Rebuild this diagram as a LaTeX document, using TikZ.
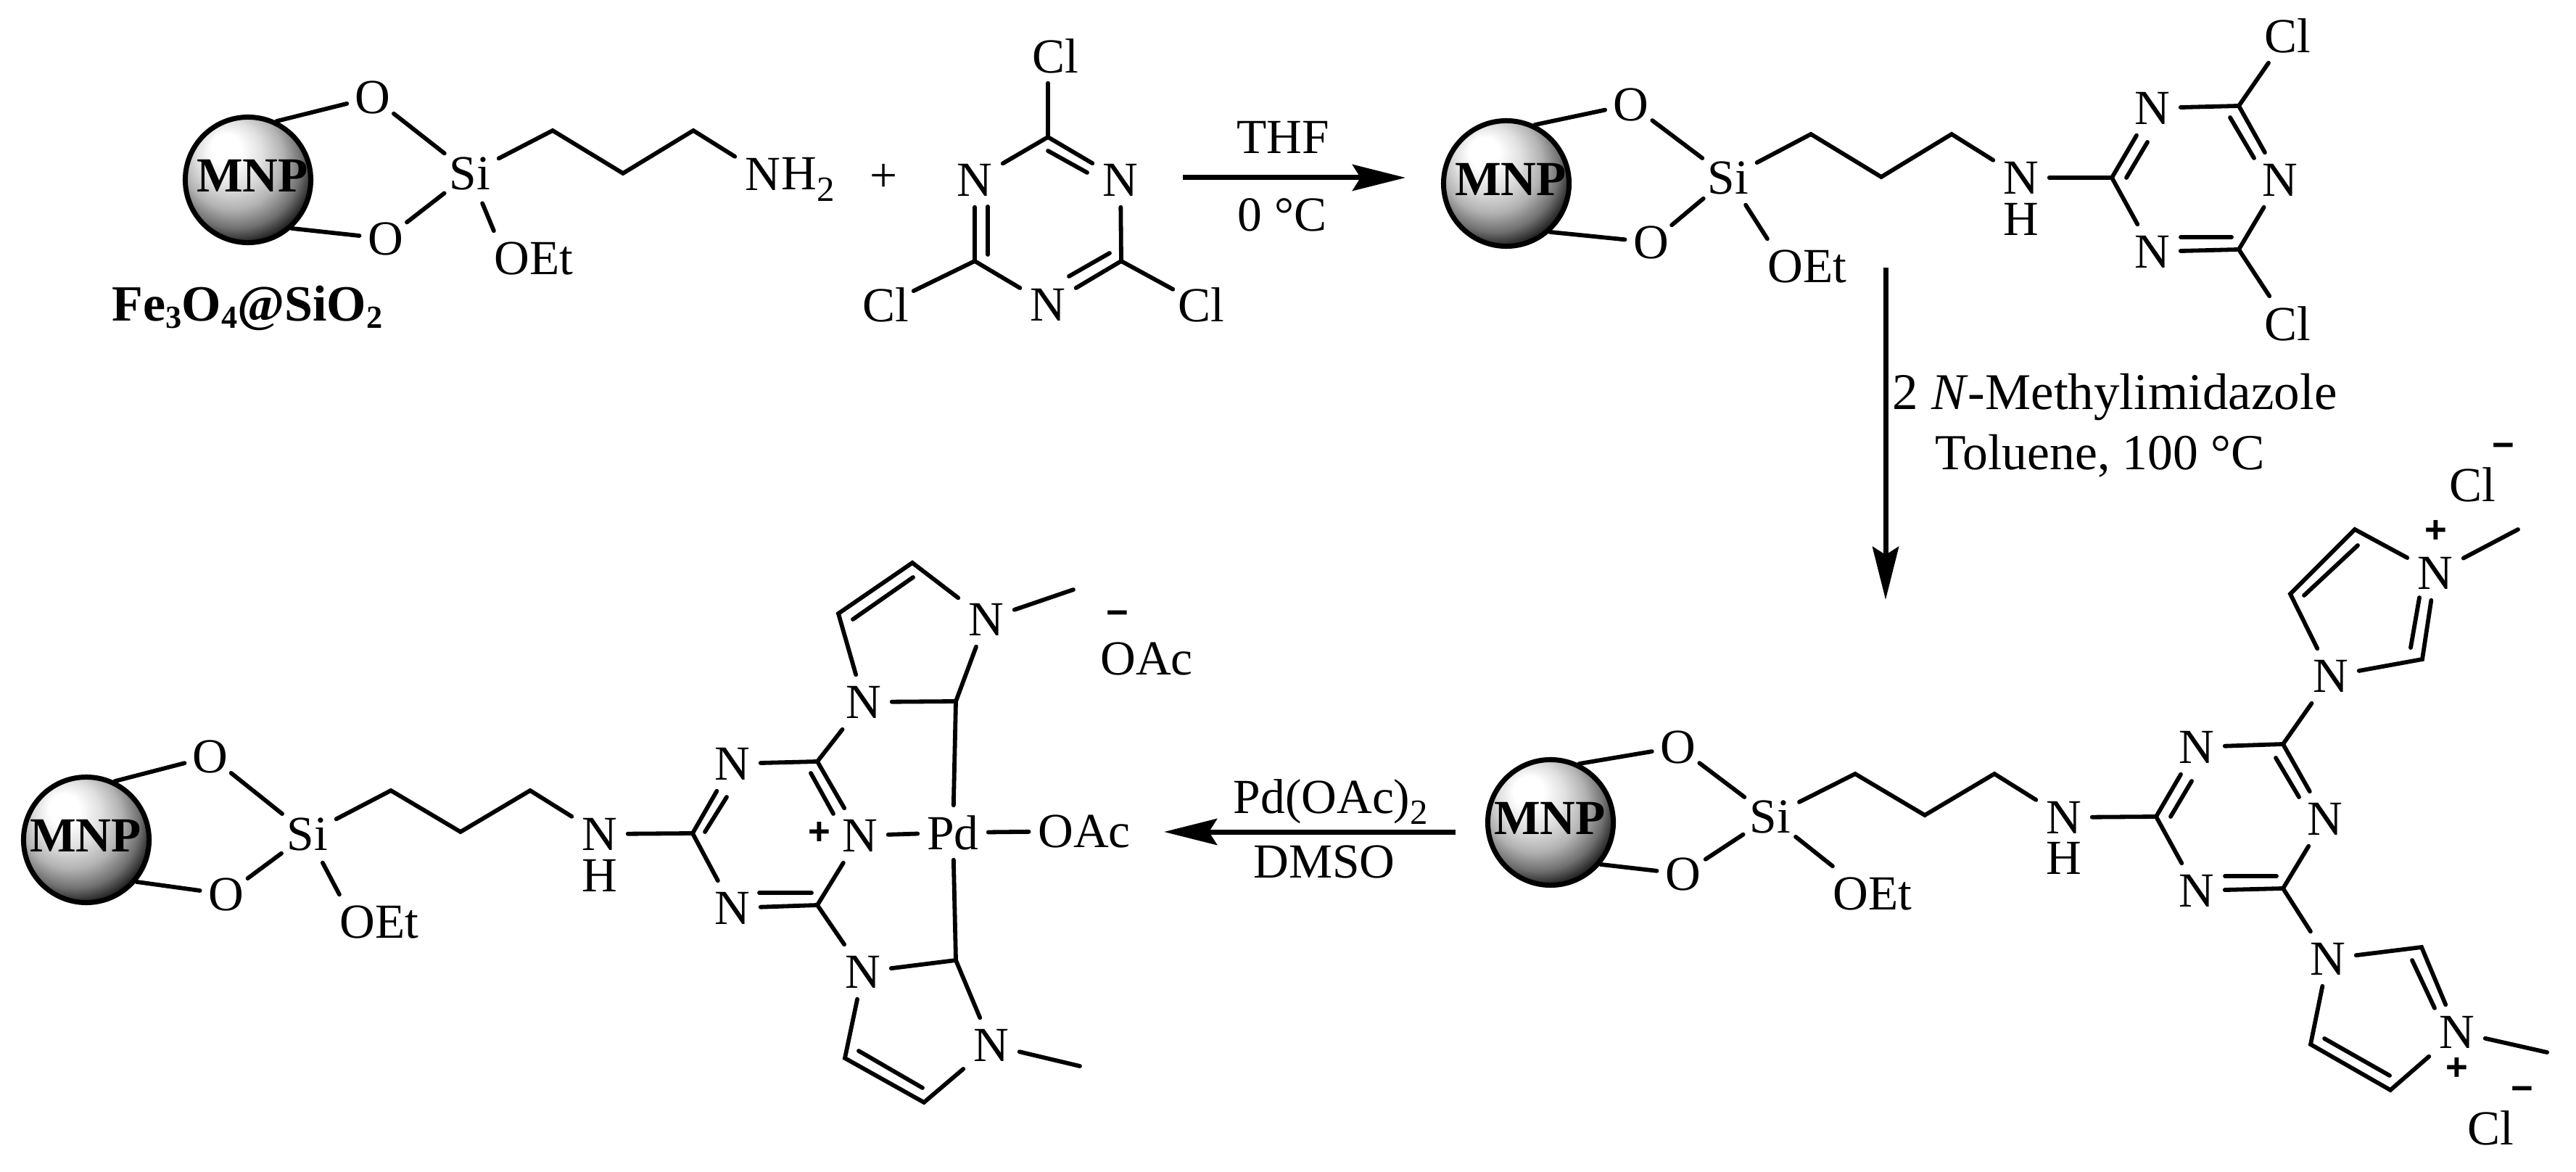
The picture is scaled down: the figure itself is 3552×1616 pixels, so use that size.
\documentclass[tikz,border=0pt]{standalone}
\usepackage{fontspec}
\setmainfont{Liberation Serif}
\newfontfamily\signfont{Liberation Sans}
\usetikzlibrary{arrows.meta}
\newcommand{\atomfont}{\fontsize{19.2}{23}\selectfont}
\newcommand{\low}[1]{\raisebox{-4.3pt}{\fontsize{13.9}{14}\selectfont #1}}
\newcommand{\lowb}[1]{\raisebox{-2.6pt}{\fontsize{12.6}{13}\selectfont #1}}
\pgfdeclareradialshading{mnpshade}{\pgfpoint{-10bp}{14bp}}{
  color(0bp)=(white);
  color(6bp)=(white);
  color(13bp)=(black!12);
  color(20bp)=(black!30);
  color(26bp)=(black!56);
  color(31bp)=(black!90);
  color(50bp)=(black)
}
\tikzstyle{atom}=[font=\atomfont, inner sep=0pt, minimum width=.76cm, minimum height=.74cm]
\tikzstyle{atom_ox}=[circle, font=\atomfont, inner sep=0pt, minimum size=.72cm]
\tikzstyle{atom_si}=[circle, font=\atomfont, inner sep=0pt, minimum size=.88cm]
\tikzstyle{rxn_text}=[font=\atomfont, inner sep=0pt]
\tikzstyle{bond}=[line width=.058cm, line cap=round, line join=miter]
\tikzstyle{rxn_arrow}=[line width=.07cm, -{Stealth[length=.73cm,width=.36cm,inset=.11cm]}]
\tikzstyle{mnp_ball}=[circle, draw=black, line width=.07cm, inner sep=0pt, minimum size=1.73cm, shading=mnpshade]
\tikzstyle{mnp_text}=[font=\fontsize{19.2}{23}\selectfont\bfseries, inner sep=0pt]
\tikzstyle{plus_sign}=[font=\fontsize{15}{18}\selectfont\signfont\bfseries, inner sep=0pt]
\tikzstyle{minus_sign}=[font=\fontsize{15}{18}\selectfont\signfont\bfseries, inner sep=0pt]
\begin{document}
\begin{tikzpicture}[x=.01cm, y=-.01cm]
\useasboundingbox (0,0) rectangle (3552,1616);
\node[mnp_ball] (aMNP) at (342,248){};
\node[mnp_text] (aMNPt) at (348,242){MNP};
\node[atom_ox] (aO1) at (514,134){O};
\node[atom_ox] (aO2) at (532,329){O};
\node[atom_si] (aSi) at (648,239){Si};
\node[atom] (aOEt) at (736,356){OEt};
\node[atom] (aN) at (1052,240){N};
\node[rxn_text, anchor=base west] (aH) at (1077,262){H\low{2}};
\coordinate (aC1) at (762,180);
\coordinate (aC2) at (859,239);
\coordinate (aC3) at (956,180);
\draw[bond](aMNP.64) -- (aO1);
\draw[bond](aMNP.-48) -- (aO2);
\draw[bond](aO1) -- (aSi);
\draw[bond](aO2) -- (aSi);
\draw[bond](aSi) -- (aOEt.north west);
\draw[bond](aSi) -- (aC1) -- (aC2) -- (aC3) -- (aN);
\node[rxn_text, anchor=base west] (aLabel) at (154,443){\fontsize{19.9}{24}\selectfont\bfseries Fe\lowb{3}O\lowb{4}@SiO\lowb{2}};
\node[rxn_text] (plusA) at (1219,245){+};
\node[atom] (tCl1) at (1455,77){Cl};
\node[atom] (tCl2) at (1221,420){Cl};
\node[atom] (tCl3) at (1656,420){Cl};
\node[atom] (tN1) at (1344,248){N};
\node[atom] (tN2) at (1545,248){N};
\node[atom] (tN3) at (1445,420){N};
\coordinate (tC1) at (1445,189);
\coordinate (tC2) at (1344,360);
\coordinate (tC3) at (1546,360);
\coordinate (tI1a) at (1445,208);
\coordinate (tI1b) at (1499,238);
\coordinate (tI2a) at (1362,285);
\coordinate (tI2b) at (1362,351);
\coordinate (tI3a) at (1474,381);
\coordinate (tI3b) at (1530,349);
\draw[bond](tC1) -- (tCl1.south -| tC1);
\draw[bond](tC2) -- (tCl2);
\draw[bond](tC3) -- (tCl3);
\draw[bond](tC1) -- (tN1);
\draw[bond](tC1) -- (tN2);
\draw[bond](tN1) -- (tC2);
\draw[bond](tN2) -- (tC3);
\draw[bond](tC2) -- (tN3);
\draw[bond](tC3) -- (tN3);
\draw[bond](tI1a) -- (tI1b);
\draw[bond](tI2a) -- (tI2b);
\draw[bond](tI3a) -- (tI3b);
\coordinate (arrow1a) at (1631,245);
\coordinate (arrow1b) at (1938,245);
\draw[rxn_arrow](arrow1a) -- (arrow1b);
\node[rxn_text] (thf) at (1769,189){THF};
\node[rxn_text] (temp1) at (1768,296){0 °C};
\node[mnp_ball] (bMNP) at (2077,253){};
\node[mnp_text] (bMNPt) at (2083,247){MNP};
\node[atom_ox] (bO1) at (2249,144){O};
\node[atom_ox] (bO2) at (2277,334){O};
\node[atom_si] (bSi) at (2383,245){Si};
\node[atom] (bOEt) at (2492,367){OEt};
\node[atom] (bN) at (2787,245){N};
\node[rxn_text] (bH) at (2787,302){H};
\coordinate (bC1) at (2497,185);
\coordinate (bC2) at (2594,244);
\coordinate (bC3) at (2691,185);
\draw[bond](bMNP.64) -- (bO1);
\draw[bond](bMNP.-48) -- (bO2);
\draw[bond](bO1) -- (bSi);
\draw[bond](bO2) -- (bSi);
\draw[bond](bSi) -- (bOEt.north west);
\draw[bond](bSi) -- (bC1) -- (bC2) -- (bC3) -- (bN);
\node[atom] (bN1) at (2968,149){N};
\node[atom] (bN2) at (2968,347){N};
\node[atom] (bN3) at (3144,248){N};
\node[atom] (bCl1) at (3154,49){Cl};
\node[atom] (bCl2) at (3154,446){Cl};
\coordinate (bT1) at (2912,245);
\coordinate (bT2) at (3087,146);
\coordinate (bT3) at (3087,344);
\coordinate (bI1a) at (2932,245);
\coordinate (bI1b) at (2961,196);
\coordinate (bI2a) at (3075,162);
\coordinate (bI2b) at (3108,218);
\coordinate (bI3a) at (3007,327);
\coordinate (bI3b) at (3077,327);
\draw[bond](bN) -- (bT1);
\draw[bond](bT1) -- (bN1);
\draw[bond](bT1) -- (bN2);
\draw[bond](bN1) -- (bT2);
\draw[bond](bT2) -- (bN3);
\draw[bond](bN3) -- (bT3);
\draw[bond](bT3) -- (bN2);
\draw[bond](bT2) -- (bCl1);
\draw[bond](bT3) -- (bCl2);
\draw[bond](bI1a) -- (bI1b);
\draw[bond](bI2a) -- (bI2b);
\draw[bond](bI3a) -- (bI3b);
\coordinate (arrow2a) at (2600,369);
\coordinate (arrow2b) at (2600,827);
\draw[rxn_arrow](arrow2a) -- (arrow2b);
\node[rxn_text, anchor=base west] (cond1) at (2609,565){\fontsize{20.2}{24}\selectfont 2 \textit{N}-Methylimidazole};
\node[rxn_text, anchor=base west] (cond2) at (2668,647){\fontsize{19.8}{24}\selectfont Toluene, 100 °C};
\node[mnp_ball] (dMNP) at (2138,1134){};
\node[mnp_text] (dMNPt) at (2137,1128){MNP};
\node[atom_ox] (dO1) at (2314,1030){O};
\node[atom_ox] (dO2) at (2321,1205){O};
\node[atom_si] (dSi) at (2441,1126){Si};
\node[atom] (dOEt) at (2582,1232){OEt};
\node[atom] (dN) at (2846,1127){N};
\node[rxn_text] (dH) at (2846,1183){H};
\coordinate (dC1) at (2558,1067);
\coordinate (dC2) at (2654,1124);
\coordinate (dC3) at (2750,1067);
\draw[bond](dMNP.64) -- (dO1);
\draw[bond](dMNP.-40) -- (dO2);
\draw[bond](dO1) -- (dSi);
\draw[bond](dO2) -- (dSi);
\draw[bond](dSi) -- (dOEt.north west);
\draw[bond](dSi) -- (dC1) -- (dC2) -- (dC3) -- (dN);
\node[atom] (dN1) at (3029,1030){N};
\node[atom] (dN2) at (3029,1228){N};
\node[atom] (dN3) at (3206,1129){N};
\node[atom] (dN4) at (3214,932){N};
\node[atom] (dN5) at (3210,1322){N};
\node[atom] (dN6) at (3358,790){N};
\node[atom] (dN7) at (3388,1423){N};
\coordinate (dT1) at (2973,1126);
\coordinate (dT2) at (3148,1026);
\coordinate (dT3) at (3148,1225);
\coordinate (dI1a) at (2993,1126);
\coordinate (dI1b) at (3022,1077);
\coordinate (dI2a) at (3138,1045);
\coordinate (dI2b) at (3170,1099);
\coordinate (dI3a) at (3068,1208);
\coordinate (dI3b) at (3139,1208);
\draw[bond](dN) -- (dT1);
\draw[bond](dT1) -- (dN1);
\draw[bond](dT1) -- (dN2);
\draw[bond](dN1) -- (dT2);
\draw[bond](dT2) -- (dN3);
\draw[bond](dN3) -- (dT3);
\draw[bond](dT3) -- (dN2);
\draw[bond](dT2) -- (dN4);
\draw[bond](dT3) -- (dN5);
\draw[bond](dI1a) -- (dI1b);
\draw[bond](dI2a) -- (dI2b);
\draw[bond](dI3a) -- (dI3b);
\coordinate (dV1) at (3158,819);
\coordinate (dV2) at (3247,730);
\coordinate (dV3) at (3340,909);
\coordinate (dMe1) at (3472,730);
\coordinate (dI4a) at (3177,821);
\coordinate (dI4b) at (3251,752);
\coordinate (dI5a) at (3336,824);
\coordinate (dI5b) at (3324,893);
\draw[bond](dN4) -- (dV1) -- (dV2) -- (dN6);
\draw[bond](dN6) -- (dV3) -- (dN4);
\draw[bond](dN6) -- (dMe1);
\draw[bond](dI4a) -- (dI4b);
\draw[bond](dI5a) -- (dI5b);
\node[plus_sign] (dPlus1) at (3359,733){+};
\node[atom] (dCl1) at (3409,668){Cl};
\node[minus_sign] (dMinus1) at (3452,621){−};
\coordinate (dV4) at (3339,1306);
\coordinate (dV5) at (3296,1503);
\coordinate (dV6) at (3186,1440);
\coordinate (dMe2) at (3512,1451);
\coordinate (dI6a) at (3326,1324);
\coordinate (dI6b) at (3357,1390);
\coordinate (dI7a) at (3205,1432);
\coordinate (dI7b) at (3295,1483);
\draw[bond](dN5) -- (dV4) -- (dN7);
\draw[bond](dN7) -- (dV5) -- (dV6) -- (dN5);
\draw[bond](dN7) -- (dMe2);
\draw[bond](dI6a) -- (dI6b);
\draw[bond](dI7a) -- (dI7b);
\node[plus_sign] (dPlus2) at (3388,1474){+};
\node[atom] (dCl2) at (3434,1555){Cl};
\node[minus_sign] (dMinus2) at (3478,1508){−};
\coordinate (arrow3a) at (2007,1147);
\coordinate (arrow3b) at (1605,1147);
\draw[rxn_arrow](arrow3a) -- (arrow3b);
\node[rxn_text, anchor=base west] (pdoac) at (1700,1121){Pd(OAc)\low{2}};
\node[rxn_text] (dmso) at (1826,1188){DMSO};
\node[mnp_ball] (cMNP) at (119,1158){};
\node[mnp_text] (cMNPt) at (118,1152){MNP};
\node[atom_ox] (cO1) at (290,1043){O};
\node[atom_ox] (cO2) at (312,1233){O};
\node[atom_si] (cSi) at (424,1150){Si};
\node[atom] (cOEt) at (523,1271){OEt};
\node[atom] (cN) at (827,1150){N};
\node[rxn_text] (cH) at (827,1207){H};
\coordinate (cC1) at (539,1090);
\coordinate (cC2) at (635,1147);
\coordinate (cC3) at (731,1090);
\draw[bond](cMNP.64) -- (cO1);
\draw[bond](cMNP.-40) -- (cO2);
\draw[bond](cO1) -- (cSi);
\draw[bond](cO2) -- (cSi);
\draw[bond](cSi) -- (cOEt.north west);
\draw[bond](cSi) -- (cC1) -- (cC2) -- (cC3) -- (cN);
\node[atom] (cN1) at (1010,1053){N};
\node[atom] (cN2) at (1010,1252){N};
\node[atom] (cN3) at (1186,1152){N};
\node[atom] (cN4) at (1191,968){N};
\node[atom] (cN5) at (1190,1340){N};
\node[atom] (cN6) at (1360,854){N};
\node[atom] (cN7) at (1367,1441){N};
\node[atom, minimum width=.96cm] (cPd) at (1314,1148){Pd};
\node[atom, inner xsep=.12cm] (cOAc) at (1495,1146){OAc};
\node[plus_sign] (cPlus) at (1130,1149){+};
\node[rxn_text] (cOAc2) at (1581,908){OAc};
\node[minus_sign] (cMinus) at (1541,852){−};
\coordinate (cT1) at (955,1149);
\coordinate (cT2) at (1127,1050);
\coordinate (cT3) at (1127,1248);
\coordinate (cI1a) at (972,1147);
\coordinate (cI1b) at (1002,1099);
\coordinate (cI2a) at (1118,1066);
\coordinate (cI2b) at (1149,1122);
\coordinate (cI3a) at (1047,1231);
\coordinate (cI3b) at (1119,1231);
\draw[bond](cN) -- (cT1);
\draw[bond](cT1) -- (cN1);
\draw[bond](cT1) -- (cN2);
\draw[bond](cN1) -- (cT2);
\draw[bond](cT2) -- (cN3);
\draw[bond](cN3) -- (cT3);
\draw[bond](cT3) -- (cN2);
\draw[bond](cT2) -- (cN4);
\draw[bond](cT3) -- (cN5);
\draw[bond](cI1a) -- (cI1b);
\draw[bond](cI2a) -- (cI2b);
\draw[bond](cI3a) -- (cI3b);
\coordinate (cK1) at (1318,967);
\coordinate (cV1) at (1156,846);
\coordinate (cV2) at (1258,776);
\coordinate (cMe1) at (1480,813);
\coordinate (cI4a) at (1176,854);
\coordinate (cI4b) at (1259,796);
\draw[bond](cN4) -- (cK1) -- (cN6);
\draw[bond](cN4) -- (cV1) -- (cV2) -- (cN6);
\draw[bond](cN6) -- (cMe1);
\draw[bond](cI4a) -- (cI4b);
\draw[bond](cK1) -- (cPd);
\coordinate (cK2) at (1318,1324);
\coordinate (cV3) at (1165,1459);
\coordinate (cV4) at (1274,1520);
\coordinate (cMe2) at (1489,1470);
\coordinate (cI5a) at (1184,1449);
\coordinate (cI5b) at (1272,1500);
\draw[bond](cN5) -- (cK2) -- (cN7);
\draw[bond](cN5) -- (cV3) -- (cV4) -- (cN7);
\draw[bond](cN7) -- (cMe2);
\draw[bond](cI5a) -- (cI5b);
\draw[bond](cK2) -- (cPd);
\draw[bond](cN3) -- (cPd);
\draw[bond](cPd) -- (cOAc);
\end{tikzpicture}
\end{document}
